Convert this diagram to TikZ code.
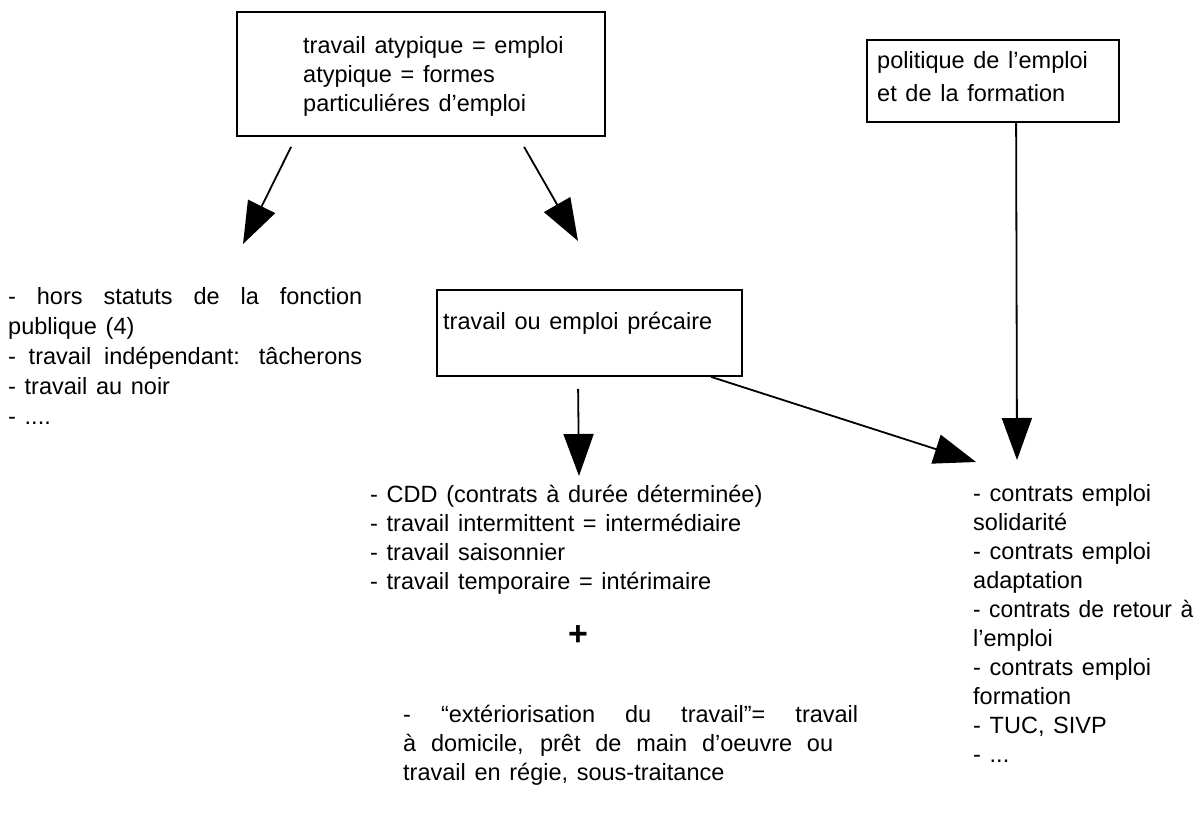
\documentclass[tikz,border=0pt]{standalone}
\usepackage{fontspec}
\usepackage{graphicx}
\setmainfont{Liberation Sans}
\usetikzlibrary{arrows.meta}
\newlength\jlw
\newcommand\jl[2]{\settowidth\jlw{#2}\ifdim\jlw<#1\makebox[#1][s]{#2}\else\resizebox{#1}{\height}{#2}\fi}
\newcommand\wsp{\spaceskip=0.37em plus 1em minus 0.1em\relax}
\begin{document}
\begin{tikzpicture}[x=1pt,y=-1pt,
  box/.style={draw=black,line width=1.8pt,rectangle,inner sep=0pt},
  txt/.style={anchor=base west,inner sep=0pt,align=left,font=\fontsize{23.5}{29}\selectfont\wsp},
  arr/.style={line width=1.8pt,-{Triangle[length=42pt,width=30pt]}}]
\useasboundingbox (0,0) rectangle (1199,818);
% boxes
\node[box,minimum width=368pt,minimum height=124pt] (b1) at (421,74) {};
\node[txt] (t1) at (303,112) {travail atypique = emploi\\atypique = formes\\particuliéres d’emploi};
\node[box,minimum width=252pt,minimum height=82pt] (b2) at (993,81) {};
\node[txt,font=\fontsize{23.5}{33}\selectfont\wsp] (t2) at (877,102) {politique de l’emploi\\et de la formation};
\node[box,minimum width=305pt,minimum height=86pt] (b3) at (589.5,333) {};
\node[txt] (t3) at (443,329) {travail ou emploi précaire};
% lists
\node[txt,font=\fontsize{23.5}{30}\selectfont\wsp] (l1) at (8,424) {\jl{354pt}{- hors statuts de la fonction}\\publique (4)\\\jl{354pt}{- travail indépendant: tâcherons}\\- travail au noir\\- ....};
\node[txt] (l2) at (370,589) {- CDD (contrats à durée déterminée)\\- travail intermittent = intermédiaire\\- travail saisonnier\\- travail temporaire = intérimaire};
\node[inner sep=0pt,font=\fontsize{34}{34}\selectfont\bfseries] (plus) at (578,636) {+};
\node[txt] (l3) at (403,780) {\jl{455pt}{- “extériorisation du travail”= travail}\\\jl{430pt}{à domicile, prêt de main d’oeuvre ou}\\travail en régie, sous-traitance};
\node[txt] (l4) at (973,762) {- contrats emploi\\solidarité\\- contrats emploi\\adaptation\\\jl{220pt}{- contrats de retour à}\\l’emploi\\- contrats emploi\\formation\\- TUC, SIVP\\- ...};
% arrow ends
\coordinate (e1) at (243,244);
\coordinate (e2) at (578,241);
\coordinate (e3) at (579,476);
\coordinate (e4) at (976,462);
\coordinate (e5) at (1017,460);
\draw[arr] ([xshift=55pt,yshift=-10pt]b1.south west) -- (e1);
\draw[arr] ([xshift=288pt,yshift=-10pt]b1.south west) -- (e2);
\draw[arr] ([xshift=142pt,yshift=-12pt]b3.south west) -- (e3);
\draw[arr] ([xshift=275pt]b3.south west) -- (e4);
\draw[arr] ([xshift=150pt]b2.south west) -- (e5);
\end{tikzpicture}
\end{document}
